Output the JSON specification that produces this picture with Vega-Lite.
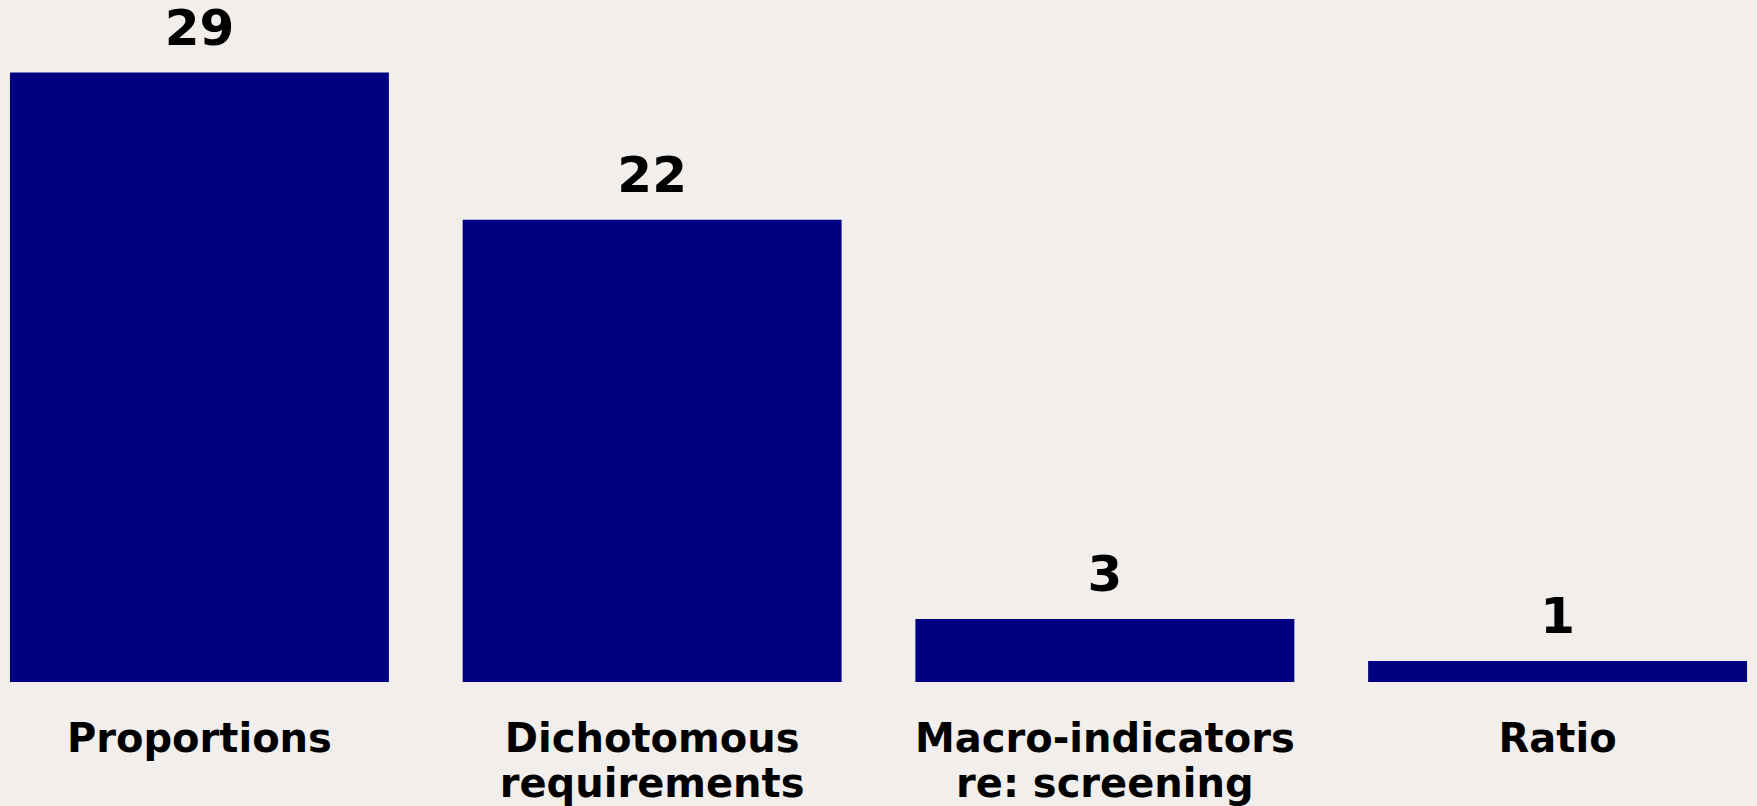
{
  "$schema": "https://vega.github.io/schema/vega-lite/v6.json",
  "width": 1757,
  "height": 682,
  "padding": {"top": 0, "left": 0, "right": 0, "bottom": 124},
  "autosize": {"type": "none"},
  "background": "#F2EEEB",
  "config": {"view": {"stroke": null}},
  "data": {"values": [
    {"category": "Proportions", "count": 29},
    {"category": "Dichotomous requirements", "count": 22},
    {"category": "Macro-indicators re: screening", "count": 3},
    {"category": "Ratio", "count": 1}
  ]},
  "encoding": {
    "x": {
      "field": "category", "type": "nominal", "sort": null,
      "scale": {"paddingInner": 0.163, "paddingOuter": 0.022},
      "axis": {
        "title": null, "labelAngle": 0, "domain": false, "ticks": false,
        "labelFont": "DejaVu Sans", "labelFontWeight": "bold", "labelFontSize": 40,
        "labelColor": "#000000", "labelPadding": 37, "labelLineHeight": 45,
        "labelLimit": 0,
        "labelExpr": "indexof(datum.label,'Dichotomous')>=0 ? ['Dichotomous','requirements'] : indexof(datum.label,'Macro')>=0 ? ['Macro-indicators','re: screening'] : datum.label"
      }
    },
    "y": {
      "field": "count", "type": "quantitative",
      "scale": {"domain": [0, 32.45], "nice": false, "zero": true},
      "axis": null
    }
  },
  "layer": [
    {"mark": {"type": "bar", "color": "#000080"}},
    {
      "mark": {"type": "text", "font": "DejaVu Sans", "fontWeight": "bold", "fontSize": 50,
               "color": "#000000", "baseline": "alphabetic", "dy": -28},
      "encoding": {"text": {"field": "count", "type": "quantitative"}}
    }
  ]
}
